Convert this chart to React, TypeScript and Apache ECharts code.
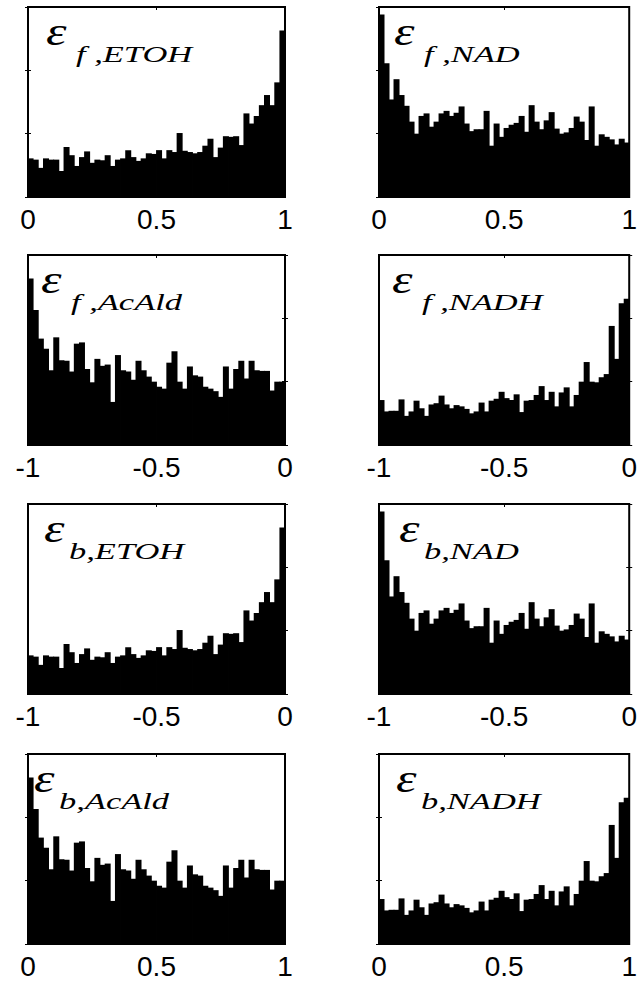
import React, { useEffect, useRef } from "react";
import * as echarts from "echarts";

// ---- data (histogram counts per bin, 50 bins) ----
const bins = [
  "1","2","3","4","5","6","7","8","9","10","11","12","13","14","15","16","17","18","19","20",
  "21","22","23","24","25","26","27","28","29","30","31","32","33","34","35","36","37","38","39","40",
  "41","42","43","44","45","46","47","48","49","50",
];

const fETOH = [61,59,46,61,59,59,41,79,66,49, 63,72,54,59,58,66,49,59,61,74, 63,57,61,69,68,74,61,74,71,101, 73,71,69,71,81,92,63,78,96,95, 96,82,132,116,128,145,161,145,181,263];
const fNAD = [288,211,154,186,161,144,119,100,128,132, 111,119,132,136,128,133,143,116,104,107, 107,136,81,116,95,109,114,117,128,103, 145,119,107,121,134,108,100,102,109,127, 119,90,143,81,99,95,91,83,92,86];
const fAcAld = [263,213,168,152,118,170,134,133,116,160, 162,120,99,136,125,127,68,142,118,116, 103,133,118,108,100,92,89,130,148,100, 89,124,110,108,92,89,85,76,124,89, 120,133,105,133,118,117,117,86,100,100];
const fNADH = [71,53,54,54,72,46,53,70,58,46, 64,66,78,64,58,63,61,57,50,53, 67,53,70,73,84,74,71,80,52,70, 71,79,93,71,84,61,83,91,61,79, 100,131,100,99,107,112,188,136,224,231];
const bETOH = [61,59,46,61,59,59,41,79,66,49, 63,72,54,59,58,66,49,59,61,74, 63,57,61,69,68,74,61,74,71,101, 73,71,69,71,81,92,63,78,96,95, 96,82,132,116,128,145,161,145,181,263];
const bNAD = [288,211,154,186,161,144,119,100,128,132, 111,119,132,136,128,133,143,116,104,107, 107,136,81,116,95,109,114,117,128,103, 145,119,107,121,134,108,100,102,109,127, 119,90,143,81,99,95,91,83,92,86];
const bAcAld = [263,213,168,152,118,170,134,133,116,160, 162,120,99,136,125,127,68,142,118,116, 103,133,118,108,100,92,89,130,148,100, 89,124,110,108,92,89,85,76,124,89, 120,133,105,133,118,117,117,86,100,100];
const bNADH = [71,53,54,54,72,46,53,70,58,46, 64,66,78,64,58,63,61,57,50,53, 67,53,70,73,84,74,71,80,52,70, 71,79,93,71,84,61,83,91,61,79, 100,131,100,99,107,112,188,136,224,231];

const panelData = [fETOH, fNAD, fAcAld, fNADH, bETOH, bNAD, bAcAld, bNADH];
const subscripts = ["f ,ETOH", "f ,NAD", "f ,AcAld", "f ,NADH", "b,ETOH", "b,NAD", "b,AcAld", "b,NADH"];
const xMins = [0, 0, -1, -1, -1, -1, 0, 0];
const xMaxs = [1, 1, 0, 0, 0, 0, 1, 1];
const xStep = 0.5;
const yMax = 300;
const yStep = 100;

// ---- layout ----
const colLefts = [28, 379];
const colWidths = [257, 256];
const rowTops = [7, 255, 504, 754];
const panelH = 190;
const epsOffsets = [18, 15, 13, 13, 16, 20, 6, 17];

export default function App() {
  const ref = useRef<HTMLDivElement>(null);

  useEffect(() => {
    if (!ref.current) return;
    const chart = echarts.init(ref.current, undefined, { renderer: "svg" });

    const grid: any[] = [];
    const xAxis: any[] = [];
    const yAxis: any[] = [];
    const series: any[] = [];
    const graphic: any[] = [];

    panelData.forEach((data, i) => {
      const col = i % 2;
      const row = Math.floor(i / 2);
      const left = colLefts[col];
      const top = rowTops[row];
      const width = colWidths[col];
      grid.push({
        left, top, width, height: panelH,
        show: true, borderColor: "#000", borderWidth: 2, backgroundColor: "#fff",
        containLabel: false, z: 0,
      });
      xAxis.push({
        type: "category", gridIndex: i, data: bins, show: false, boundaryGap: true,
      });
      xAxis.push({
        type: "value", gridIndex: i, position: "bottom",
        min: xMins[i], max: xMaxs[i], interval: xStep,
        axisLine: { show: false }, axisTick: { show: false }, splitLine: { show: false },
        axisLabel: {
          show: true, color: "#000", fontSize: 28, fontFamily: "Liberation Sans, Arial, sans-serif",
          margin: 8, showMinLabel: true, showMaxLabel: true,
        },
      });
      xAxis.push({
        type: "value", gridIndex: i, position: "top",
        min: xMins[i], max: xMaxs[i], interval: xStep,
        axisLine: { show: false },
        axisTick: { show: true, inside: true, length: 3, lineStyle: { color: "#000", width: 1 } },
        axisLabel: { show: false }, splitLine: { show: false },
      });
      const yBase = {
        type: "value", gridIndex: i, min: 0, max: yMax, interval: yStep,
        axisLine: { show: false },
        axisTick: { show: true, inside: true, length: 3, lineStyle: { color: "#000", width: 1 } },
        axisLabel: { show: false }, splitLine: { show: false },
      };
      yAxis.push({ ...yBase, position: "left" });
      yAxis.push({ ...yBase, position: "right" });
      series.push({
        type: "bar",
        xAxisIndex: i * 3,
        yAxisIndex: i * 2,
        data,
        barWidth: 6,
        barCategoryGap: "0%",
        itemStyle: { color: "#000", borderWidth: 0 },
        silent: true,
      });

      const ex = left + epsOffsets[i];
      const isB = subscripts[i].startsWith("b");
      graphic.push({
        type: "text", x: ex, y: top + 25, scaleX: 1.3, z: 100,
        style: {
          text: "ε", fill: "#000",
          font: 'italic 40px "Liberation Serif", "Times New Roman", serif',
          align: "left", verticalAlign: "middle", textAlign: "left", textVerticalAlign: "middle",
        },
      });
      graphic.push({
        type: "text", x: ex + (isB ? 25 : 30), y: top + 47, scaleX: 1.5, z: 100,
        style: {
          text: subscripts[i], fill: "#000",
          font: 'italic 23px "Liberation Serif", "Times New Roman", serif',
          align: "left", verticalAlign: "middle", textAlign: "left", textVerticalAlign: "middle",
        },
      });
    });

    chart.setOption({
      animation: false,
      backgroundColor: "#fff",
      grid, xAxis, yAxis, series, graphic,
    });

    return () => chart.dispose();
  }, []);

  return (
    <div
      ref={ref}
      style={{ position: "fixed", left: 0, top: 0, width: 640, height: 982, background: "#fff" }}
    />
  );
}
